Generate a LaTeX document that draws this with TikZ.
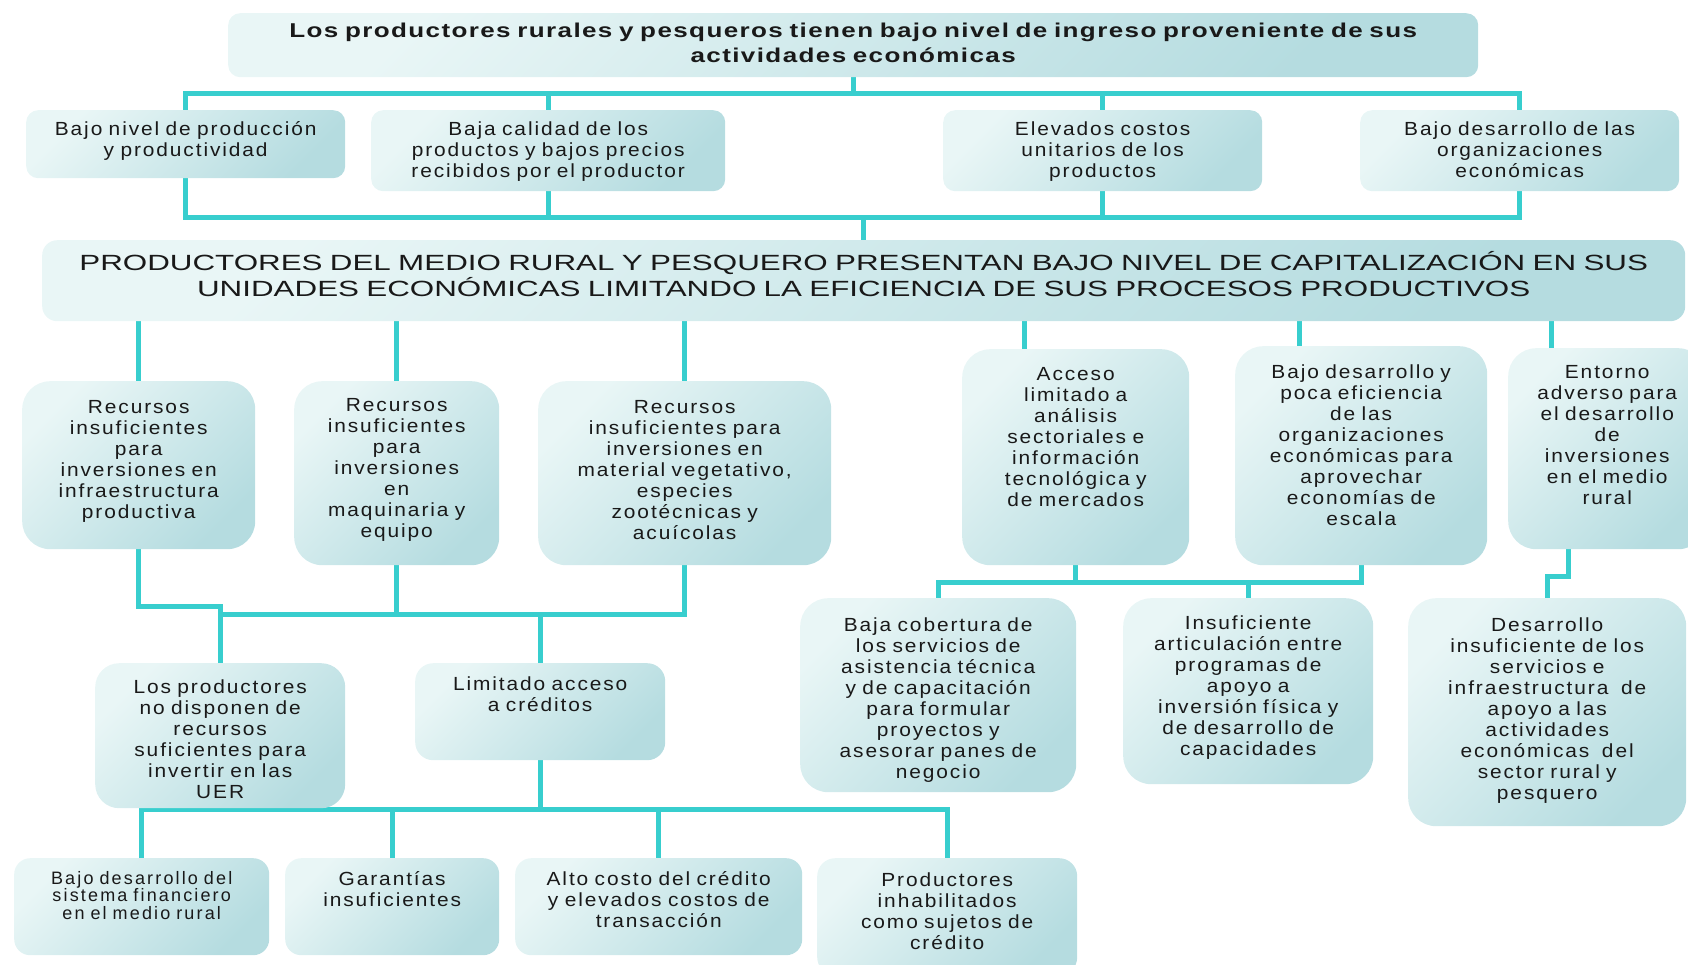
\documentclass[tikz,border=0pt]{standalone}
\usepackage{fontspec}
\setmainfont{Liberation Sans}
\newfontfamily\cajafont{Liberation Sans}[LetterSpace=10, FakeStretch=1.1]
\newfontfamily\chicafont{Liberation Sans}[LetterSpace=12]
\newfontfamily\titulofont{Liberation Sans}[LetterSpace=7, FakeStretch=1.3]
\newfontfamily\anchafont{Liberation Sans}[FakeStretch=1.425]
\usetikzlibrary{backgrounds}
\definecolor{turquesa}{RGB}{56,206,206}
\definecolor{cajaclaro}{RGB}{233,246,246}
\definecolor{cajaoscuro}{RGB}{181,220,224}
\tikzset{
  caja/.style={anchor=north west, inner sep=0pt, rounded corners=12pt,
    top color=cajaclaro, bottom color=cajaoscuro, shading angle=45,
    align=center, text=black!90, font=\cajafont\fontsize{19}{21}\selectfont},
  tam/.style n args={3}{text width=#1pt, text height=#2pt, text depth=#3pt},
  linea/.style={draw=turquesa, line width=5pt},
}

\begin{document}
\begin{tikzpicture}[x=1pt, y=1pt]

\useasboundingbox (0,0) rectangle (1688,-964);

% efectos
\node[caja, tam={1250}{24}{40}, font=\titulofont\bfseries\fontsize{20}{25}\selectfont] (efecto) at (228,-13)
  {Los productores rurales y pesqueros tienen bajo nivel de ingreso proveniente de sus\\actividades económicas};

\node[caja, tam={319}{25}{43}] (e1) at (26,-110) {Bajo nivel de producción\\y productividad};
\node[caja, tam={354}{25}{56}] (e2) at (371,-110) {Baja calidad de los\\productos y bajos precios\\recibidos por el productor};
\node[caja, tam={319}{25}{56}] (e3) at (943,-110) {Elevados costos\\unitarios de los\\productos};
\node[caja, tam={319}{25}{56}] (e4) at (1360,-110) {Bajo desarrollo de las\\organizaciones\\económicas};

% problema central
\node[caja, tam={1643}{30}{51}, rounded corners=15pt, font=\anchafont\fontsize{22}{26}\selectfont] (problema) at (42,-240)
  {PRODUCTORES DEL MEDIO RURAL Y PESQUERO PRESENTAN BAJO NIVEL DE CAPITALIZACIÓN EN SUS\\UNIDADES ECONÓMICAS LIMITANDO LA EFICIENCIA DE SUS PROCESOS PRODUCTIVOS};

% causas
\node[caja, tam={233}{32}{136}, rounded corners=28pt] (r1) at (22,-381) {Recursos\\insuficientes\\para\\inversiones en\\infraestructura\\productiva};
\node[caja, tam={205}{30}{154}, rounded corners=28pt] (r2) at (294,-381) {Recursos\\insuficientes\\para\\inversiones\\en\\maquinaria y\\equipo};
\node[caja, tam={293}{32}{152}, rounded corners=28pt] (r3) at (538,-381) {Recursos\\insuficientes para\\inversiones en\\material vegetativo,\\especies\\zootécnicas y\\acuícolas};
\node[caja, tam={227}{31}{185}, rounded corners=28pt] (acceso) at (962,-349) {Acceso\\limitado a\\análisis\\sectoriales e\\información\\tecnológica y\\de mercados};
\node[caja, tam={252}{32}{187}, rounded corners=28pt] (organiz) at (1235,-346) {Bajo desarrollo y\\poca eficiencia\\de las\\organizaciones\\económicas para\\aprovechar\\economías de\\escala};
\node[caja, tam={198}{30}{171}, rounded corners=28pt] (entorno) at (1508,-348) {Entorno\\adverso para\\el desarrollo\\de\\inversiones\\en el medio\\rural};

% causas secundarias
\node[caja, tam={250}{30}{115}, rounded corners=24pt] (sinrec) at (95,-663) {Los productores\\no disponen de\\recursos\\suficientes para\\invertir en las\\UER};
\node[caja, tam={250}{27}{70}, rounded corners=18pt] (credito) at (415,-663) {Limitado acceso\\a créditos};
\node[caja, tam={276}{33}{161}, rounded corners=28pt] (cobertura) at (800,-598) {Baja cobertura de\\los servicios de\\asistencia técnica\\y de capacitación\\para formular\\proyectos y\\asesorar panes de\\negocio};
\node[caja, tam={250}{31}{155}, rounded corners=28pt] (articul) at (1123,-598) {Insuficiente\\articulación entre\\programas de\\apoyo a\\inversión física y\\de desarrollo de\\capacidades};
\node[caja, tam={278}{33}{195}, rounded corners=28pt] (servicios) at (1408,-598) {Desarrollo\\insuficiente de los\\servicios e\\infraestructura~ de\\apoyo a las\\actividades\\económicas~ del\\sector rural y\\pesquero};

% causas del credito
\node[caja, tam={255}{26}{71}, rounded corners=16pt, font=\chicafont\fontsize{18}{17.5}\selectfont] (c1) at (14,-858) {Bajo desarrollo del\\sistema financiero\\en el medio rural};
\node[caja, tam={214}{27}{70}, rounded corners=16pt] (c2) at (285,-858) {Garantías\\insuficientes};
\node[caja, tam={287}{27}{70}, rounded corners=16pt] (c3) at (515,-858) {Alto costo del crédito\\y elevados costos de\\transacción};
\node[caja, tam={260}{28}{89}, rounded corners=18pt] (c4) at (817,-858) {Productores\\inhabilitados\\como sujetos de\\crédito};

\coordinate (barraA) at (0,-93);
\coordinate (barraB) at (0,-217);
\coordinate (barraC) at (0,-614);
\coordinate (escalon) at (0,-606);
\coordinate (barraD) at (0,-582);
\coordinate (escalonE) at (0,-576);
\coordinate (barraF) at (0,-809);

\begin{scope}[on background layer]
  % arriba
  \draw[linea] (efecto.south) -- (efecto.south |- barraA);
  \draw[linea] (e1.north) |- (e4.north |- barraA) -- (e4.north);
  \foreach \n in {e2, e3}{
    \draw[linea] (\n.north) -- (\n.north |- barraA);
  }
  \draw[linea] (e1.south) |- (e4.south |- barraB) -- (e4.south);
  \foreach \n in {e2, e3}{
    \draw[linea] (\n.south) -- (\n.south |- barraB);
  }
  \draw[linea] (problema.north) -- (problema.north |- barraB);

  % problema a causas
  \foreach \n in {r1, r2, r3}{
    \draw[linea] (\n.north) -- (\n.north |- problema.south);
  }
  \draw[linea] ([xshift=-51pt]acceso.north) -- ([xshift=-51pt]acceso.north |- problema.south);
  \draw[linea] ([xshift=-62pt]organiz.north) -- ([xshift=-62pt]organiz.north |- problema.south);
  \draw[linea] ([xshift=-56pt]entorno.north) -- ([xshift=-56pt]entorno.north |- problema.south);

  % izquierda
  \draw[linea] (r1.south) |- (sinrec.north |- escalon) -- (sinrec.north);
  \draw[linea] (sinrec.north |- barraC) -| (r3.south);
  \draw[linea] (r2.south) -- (r2.south |- barraC);
  \draw[linea] (credito.north) -- (credito.north |- barraC);

  % derecha
  \draw[linea] (cobertura.north) |- (organiz.south |- barraD) -- (organiz.south);
  \draw[linea] (acceso.south) -- (acceso.south |- barraD);
  \draw[linea] (articul.north) -- (articul.north |- barraD);
  \draw[linea] ([xshift=-39pt]entorno.south) |- (servicios.north |- escalonE) -- (servicios.north);

  % abajo
  \draw[linea] (c1.north) |- (c4.north |- barraF) -- (c4.north);
  \foreach \n in {c2, c3}{
    \draw[linea] (\n.north) -- (\n.north |- barraF);
  }
  \draw[linea] (credito.south) -- (credito.south |- barraF);
\end{scope}

\end{tikzpicture}
\end{document}
